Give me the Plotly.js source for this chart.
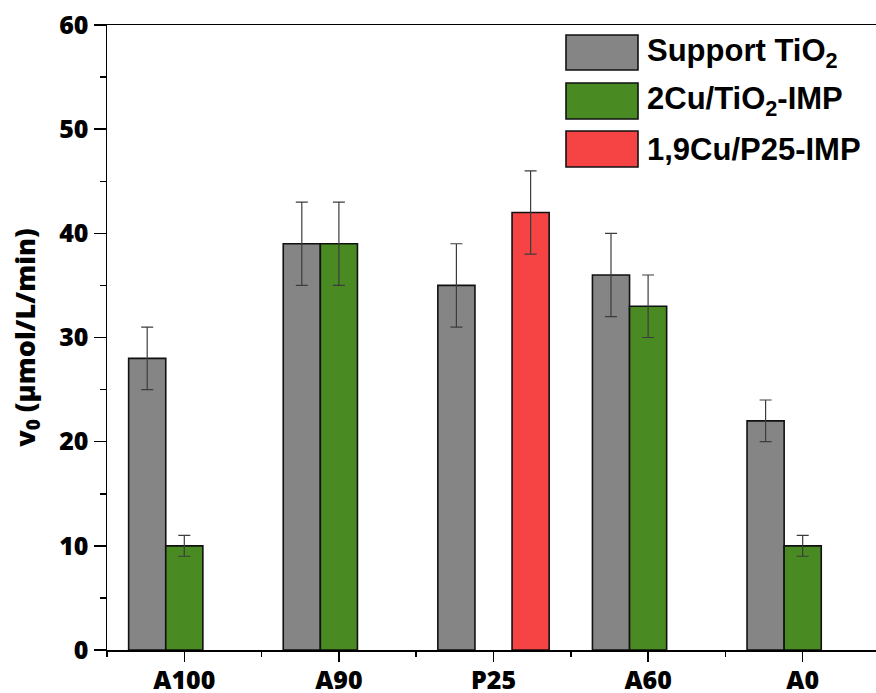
<!DOCTYPE html>
<html>
<head>
<meta charset="utf-8">
<script src="https://cdn.plot.ly/plotly-3.0.1.min.js"></script>
<style>html,body{margin:0;padding:0;background:#fff;}#chart{width:876px;height:693px;}</style>
</head>
<body>
<div id="chart"></div>
<script>
const categories = ["A100", "A90", "P25", "A60", "A0"];
const supportVals = [28, 39, 35, 36, 22];
const supportErr  = [3, 4, 4, 4, 2];
const cuVals      = [10, 39, null, 33, 10];
const cuErr       = [1, 4, null, 3, 1];
const p25Vals     = [null, null, 42, null, null];
const p25Err      = [null, null, 4, null, null];
const seriesNames = ["Support TiO<sub>2</sub>", "2Cu/TiO<sub>2</sub>-IMP", "1,9Cu/P25-IMP"];
const seriesColors = ["#858585", "#4a8a22", "#f64444"];

const xIdx = categories.map((c, i) => i);
const errStyle = {type: 'data', color: '#3c3c3c', thickness: 1.2, width: 6, visible: true};

function barTrace(vals, errs, k) {
  return {
    type: 'bar', x: xIdx, y: vals, name: seriesNames[k], showlegend: false,
    marker: {color: seriesColors[k], line: {color: '#111', width: 1.6}},
    error_y: Object.assign({array: errs}, errStyle)
  };
}
const data = [
  barTrace(supportVals, supportErr, 0),
  barTrace(cuVals, cuErr, 1),
  barTrace(p25Vals, p25Err, 2)
];

// custom legend (large swatches)
const L = 107, R = 876, T = 25, B = 650;
const px = v => (v - L) / (R - L);
const py = v => (B - v) / (B - T);
const legRows = [[35, 70], [83, 119], [131, 167]];
const shapes = [], annotations = [];
legRows.forEach((r, k) => {
  shapes.push({type: 'rect', xref: 'paper', yref: 'paper', x0: px(566), x1: px(638), y0: py(r[1]), y1: py(r[0]),
    fillcolor: seriesColors[k], line: {color: '#111', width: 1.6}});
  annotations.push({xref: 'paper', yref: 'paper', x: px(645), y: py((r[0] + r[1]) / 2), xanchor: 'left', yanchor: 'middle',
    text: seriesNames[k], showarrow: false, font: {family: 'Liberation Sans, Arial, sans-serif', size: 31, color: '#000', weight: 'bold'}});
});

const tickFont = {family: 'Open Sans, sans-serif', size: 25, color: '#000', weight: 800};
const layout = {
  width: 876, height: 693,
  margin: {l: L, r: 0, t: T, b: 693 - B},
  paper_bgcolor: '#fff', plot_bgcolor: '#fff',
  barmode: 'group', bargap: 0.28, bargroupgap: 0,
  showlegend: false,
  xaxis: {
    type: 'linear', range: [-0.5, -0.5 + (R - L) / 154.6],
    tickvals: xIdx, ticktext: categories,
    showgrid: false, zeroline: false, showline: true, linecolor: '#000', linewidth: 1.5, mirror: true,
    ticks: 'outside', ticklen: 10, tickwidth: 1.5, tickcolor: '#000', tickfont: tickFont,
    ticklabelstandoff: -3,
    minor: {tick0: 0.5, dtick: 1, ticks: 'outside', ticklen: 5, tickwidth: 1.5, tickcolor: '#000', showgrid: false}
  },
  yaxis: {
    range: [0, 60], tickvals: [0, 10, 20, 30, 40, 50, 60],
    showgrid: false, zeroline: false, showline: true, linecolor: '#000', linewidth: 1.5,
    ticks: 'outside', ticklen: 12, tickwidth: 1.5, tickcolor: '#000', tickfont: tickFont,
    ticklabelstandoff: 0,
    minor: {dtick: 5, ticks: 'outside', ticklen: 6, tickwidth: 1.5, tickcolor: '#000', showgrid: false},
    title: {text: 'v<sub>0</sub> (μmol/L/min)', standoff: 16, font: {family: 'Open Sans, sans-serif', size: 27, color: '#000', weight: 800}}
  },
  shapes: shapes, annotations: annotations
};
Plotly.newPlot('chart', data, layout, {displayModeBar: false, staticPlot: true});
</script>
</body>
</html>
